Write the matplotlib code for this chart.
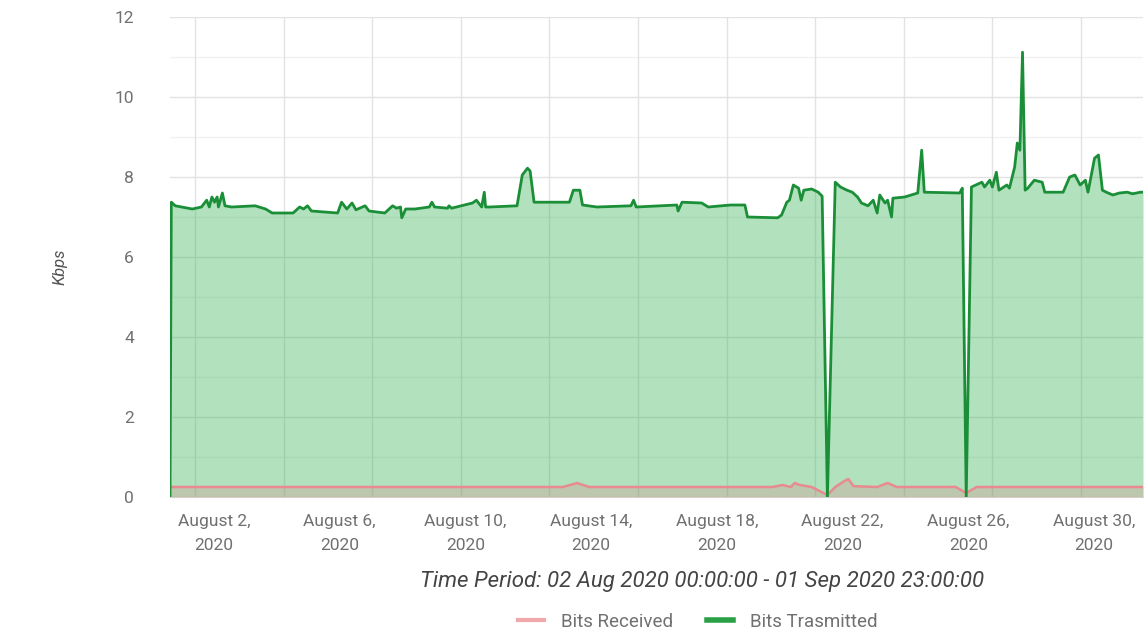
import matplotlib
matplotlib.use("Agg")
import matplotlib.pyplot as plt
from matplotlib.lines import Line2D

plt.rcParams['font.family'] = ['Roboto', 'DejaVu Sans']

# hours since 02 Aug 2020 00:00 and Kbps values
tx_hours = [0, 1, 4, 17, 24, 28, 30, 32, 34, 36, 37, 40, 42, 47, 65, 73, 78, 94, 99, 102,
            105, 108, 128, 131, 135, 139, 142, 149, 152, 164, 170, 173, 176, 177, 180, 187,
            198, 200, 202, 212, 213, 215, 231, 234, 238, 240, 241, 244, 265, 269, 273, 275,
            278, 305, 308, 313, 315, 326, 352, 354, 356, 374, 387, 388, 391, 406, 411, 428,
            439, 441, 464, 467, 471, 473, 476, 480, 482, 484, 490, 495, 498, 502, 508, 512,
            517, 521, 525, 528, 533, 537, 540, 542, 546, 548, 551, 552, 561, 571, 574, 576,
            603, 605, 608, 612, 620, 622, 626, 628, 631, 633, 639, 641, 645, 647, 649, 651,
            653, 655, 660, 666, 668, 682, 687, 691, 695, 699, 701, 706, 709, 712, 715, 720,
            725, 731, 735, 741, 743]
tx_kbps = [0.0, 7.37, 7.28, 7.2, 7.25, 7.42, 7.25, 7.5, 7.37, 7.5, 7.25, 7.6, 7.28, 7.25,
           7.28, 7.2, 7.1, 7.1, 7.25, 7.2, 7.28, 7.15, 7.1, 7.37, 7.2, 7.35, 7.18, 7.28, 7.15,
           7.1, 7.28, 7.22, 7.25, 6.98, 7.2, 7.2, 7.25, 7.37, 7.25, 7.22, 7.28, 7.22, 7.35,
           7.42, 7.25, 7.62, 7.25, 7.25, 7.28, 8.05, 8.22, 8.15, 7.37, 7.37, 7.67, 7.67, 7.3,
           7.25, 7.28, 7.42, 7.25, 7.28, 7.3, 7.15, 7.37, 7.35, 7.25, 7.3, 7.3, 7.0, 6.98,
           7.05, 7.37, 7.42, 7.8, 7.72, 7.42, 7.67, 7.7, 7.62, 7.52, 0.0, 7.87, 7.75, 7.67,
           7.62, 7.5, 7.35, 7.28, 7.42, 7.1, 7.55, 7.35, 7.42, 7.0, 7.47, 7.5, 7.6, 8.67,
           7.62, 7.6, 7.72, 0.0, 7.75, 7.87, 7.75, 7.92, 7.75, 8.12, 7.67, 7.8, 7.72, 8.25,
           8.85, 8.67, 11.12, 7.67, 7.72, 7.92, 7.87, 7.62, 7.62, 8.0, 8.05, 7.8, 7.92, 7.62,
           8.47, 8.55, 7.67, 7.62, 7.55, 7.6, 7.62, 7.58, 7.62, 7.62]

rx_hours = [0, 300, 311, 320, 460, 468, 474, 477, 481, 490, 502, 508, 515, 518, 522, 540,
            548, 555, 600, 608, 616, 743]
rx_kbps = [0.25, 0.25, 0.35, 0.25, 0.25, 0.3, 0.25, 0.35, 0.3, 0.25, 0.05, 0.25, 0.4, 0.45,
           0.27, 0.25, 0.35, 0.25, 0.25, 0.1, 0.25, 0.25]

tick_labels = ['August 2,\n2020', 'August 6,\n2020', 'August 10,\n2020', 'August 14,\n2020',
               'August 18,\n2020', 'August 22,\n2020', 'August 26,\n2020', 'August 30,\n2020']

fig = plt.figure(figsize=(11.47, 6.34), dpi=100)
ax = fig.add_axes([170 / 1147, 137 / 634, 973 / 1147, 480 / 634])

green = '#1b8f37'
pink = '#e88a8f'

ax.fill_between(tx_hours, tx_kbps, color='#3cb45a', alpha=0.4, lw=0, zorder=2)
ax.plot(tx_hours, tx_kbps, color=green, lw=2.0, zorder=4)
ax.fill_between(rx_hours, rx_kbps, color='#e07a80', alpha=0.25, lw=0, zorder=3)
ax.plot(rx_hours, rx_kbps, color=pink, lw=1.8, zorder=3)

ax.set_xlim(0, 743)
ax.set_ylim(0, 12)

# grid: major every 2 Kbps, fainter lines in between
for v in range(0, 13):
    ax.axhline(v, color='#e2e2e2' if v % 2 == 0 else '#f1f1f1', lw=1, zorder=1)
px_per_hour = 973 / 743
for k in range(11):
    ax.axvline((25 + 88.6 * k) / px_per_hour, color='#e2e2e2', lw=1, zorder=1)

ax.set_yticks(range(0, 13, 2))
ax.set_yticklabels([str(v) for v in range(0, 13, 2)])
ax.set_xticks([33.6 + 96 * i for i in range(len(tick_labels))])
ax.set_xticklabels(tick_labels)
for lbl in ax.get_xticklabels():
    lbl.set_linespacing(1.75)
ax.tick_params(axis='both', length=0, labelsize=12.5, labelcolor='#707070')
ax.tick_params(axis='y', pad=26)
ax.tick_params(axis='x', pad=12)

for side in ['top', 'right', 'left']:
    ax.spines[side].set_visible(False)
ax.spines['bottom'].set_color('#d8d8d8')

fig.text(60 / 1147, 1 - 267 / 634, 'Kbps', rotation=90, style='italic',
         fontsize=12, color='#555555', ha='center', va='center')
fig.text(702 / 1147, 1 - 582 / 634,
         'Time Period: 02 Aug 2020 00:00:00 - 01 Sep 2020 23:00:00',
         style='italic', fontsize=16, color='#444444', ha='center', va='center')

handles = [Line2D([], [], color='#f0a8ac', lw=3),
           Line2D([], [], color='#2aa046', lw=4)]
fig.legend(handles, ['Bits Received', 'Bits Trasmitted'], loc='center',
           bbox_to_anchor=(698 / 1147, 1 - 622 / 634), ncol=2, frameon=False,
           fontsize=13.5, labelcolor='#707070', handlelength=1.4, columnspacing=1.8,
           handletextpad=0.9)

fig.savefig('out.png', dpi=100)
